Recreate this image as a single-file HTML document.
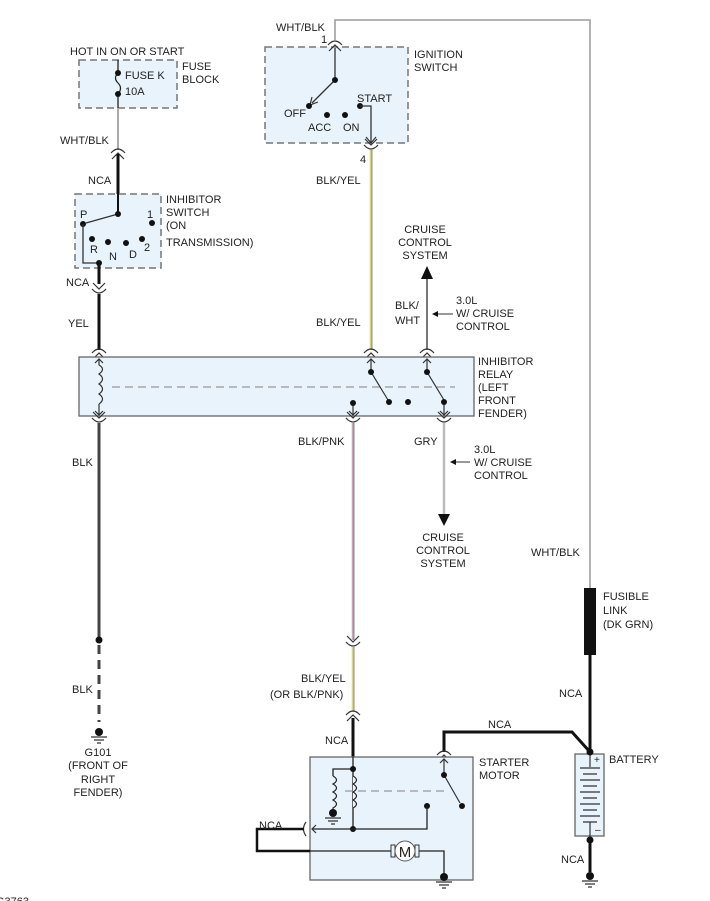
<!DOCTYPE html>
<html><head><meta charset="utf-8"><style>
html,body{margin:0;padding:0;background:#fff;}
svg{display:block;font-family:"Liberation Sans",Arial,sans-serif;font-size:11px;fill:#222;}
text{fill:#222;}
</style></head><body>
<svg width="710" height="901" viewBox="0 0 710 901" xmlns="http://www.w3.org/2000/svg">
<defs>
<g id="cn"><path d="M-7,3 Q0,-5 7,3" fill="none" stroke="#333" stroke-width="1.2"/><path d="M-6,9 L0,3 L6,9" fill="none" stroke="#333" stroke-width="1.2"/></g>
<g id="cnd"><path d="M-7,-3 Q0,5 7,-3" fill="none" stroke="#333" stroke-width="1.2"/><path d="M-6,-9 L0,-3 L6,-9" fill="none" stroke="#333" stroke-width="1.2"/></g>
<g id="gnd"><circle cx="0" cy="0" r="4" fill="#111"/><path d="M-8,5 H8 M-5,8 H5 M-2,11 H2" stroke="#333" stroke-width="1.2"/></g>
</defs>
<g stroke-linecap="butt">
<rect x="79" y="60" width="98" height="48" fill="#e8f3fb" stroke="#777" stroke-width="1.5" stroke-dasharray="7,4"/>
<line x1="118" y1="60" x2="118" y2="73" stroke="#222" stroke-width="1.3"/>
<path d="M118,73 Q113,78 118,83 Q123,88 118,94" fill="none" stroke="#222" stroke-width="1.2"/>
<line x1="118" y1="94" x2="118" y2="108" stroke="#222" stroke-width="1.3"/>
<circle cx="118" cy="73" r="3" fill="#111"/><circle cx="118" cy="94" r="3" fill="#111"/>
<line x1="118" y1="108" x2="118" y2="150" stroke="#aaa" stroke-width="2"/>
<use href="#cn" x="118" y="150"/>
<line x1="118" y1="154" x2="118" y2="214" stroke="#111" stroke-width="3"/>
<rect x="75" y="194" width="86" height="74" fill="#e8f3fb" stroke="#777" stroke-width="1.5" stroke-dasharray="7,4"/>
<line x1="118" y1="194" x2="118" y2="214" stroke="#111" stroke-width="2"/>
<line x1="118" y1="214" x2="86" y2="223" stroke="#333" stroke-width="1.3"/>
<circle cx="118" cy="214" r="3" fill="#111"/><circle cx="83" cy="224" r="3" fill="#111"/>
<circle cx="152" cy="223" r="3" fill="#111"/><circle cx="92" cy="239" r="3" fill="#111"/><circle cx="108" cy="242" r="3" fill="#111"/><circle cx="126" cy="243" r="3" fill="#111"/><circle cx="142" cy="239" r="3" fill="#111"/>
<path d="M83,224 V263 H99" fill="none" stroke="#333" stroke-width="1.3"/>
<circle cx="99" cy="263" r="3" fill="#111"/>
<line x1="99" y1="263" x2="99" y2="284" stroke="#111" stroke-width="3"/>
<use href="#cnd" x="99" y="292"/>
<line x1="99" y1="294" x2="99" y2="350" stroke="#111" stroke-width="3"/>
<use href="#cn" x="99" y="350"/>
<rect x="265" y="47" width="143" height="96" fill="#e8f3fb" stroke="#777" stroke-width="1.5" stroke-dasharray="7,4"/>
<path d="M335,40 V20 H590 V588" fill="none" stroke="#aaa" stroke-width="1.8"/>
<use href="#cn" x="335" y="42"/>
<line x1="335" y1="48" x2="335" y2="80" stroke="#333" stroke-width="1.3"/>
<line x1="335" y1="80" x2="312" y2="103" stroke="#333" stroke-width="1.3"/>
<path d="M312,97 L310,105 L318,102" fill="none" stroke="#333" stroke-width="1.2"/>
<circle cx="335" cy="80" r="3" fill="#111"/><circle cx="309" cy="106" r="3" fill="#111"/>
<circle cx="327" cy="115" r="3" fill="#111"/><circle cx="345" cy="115" r="3" fill="#111"/><circle cx="360" cy="106" r="3" fill="#111"/>
<path d="M360,106 H371 V143" fill="none" stroke="#333" stroke-width="1.3"/>
<path d="M366,137 L371,143 L376,137" fill="none" stroke="#333" stroke-width="1.2"/>
<use href="#cnd" x="371" y="148"/>
<line x1="371" y1="150" x2="371" y2="350" stroke="#d8cf7a" stroke-width="2.5"/>
<line x1="372" y1="150" x2="372" y2="350" stroke="#555" stroke-width="0.6"/>
<use href="#cn" x="371" y="350"/>
<line x1="427" y1="278" x2="427" y2="350" stroke="#777" stroke-width="2"/>
<path d="M421,279 L427,266 L433,279 Z" fill="#111"/>
<use href="#cn" x="427" y="350"/>
<line x1="453" y1="314" x2="433" y2="314" stroke="#333" stroke-width="1"/>
<path d="M438,311 L432,314 L438,317 Z" fill="#111"/>
<rect x="79" y="357" width="395" height="59" fill="#e8f3fb" stroke="#666" stroke-width="1.3"/>
<line x1="112" y1="387" x2="455" y2="387" stroke="#999" stroke-width="1.2" stroke-dasharray="8,5"/>
<line x1="99" y1="359" x2="99" y2="365" stroke="#333" stroke-width="1.2"/>
<path d="M95,363 L99,359 L103,363" fill="none" stroke="#333" stroke-width="1.2"/>
<path d="M99,365 Q106,369 99,374 Q106,379 99,384 Q106,389 99,394 Q106,399 99,404" fill="none" stroke="#333" stroke-width="1.2"/>
<line x1="99" y1="404" x2="99" y2="415" stroke="#333" stroke-width="1.2"/>
<path d="M95,411 L99,415 L103,411" fill="none" stroke="#333" stroke-width="1.2"/>
<path d="M371,359 V372 L388,400" fill="none" stroke="#333" stroke-width="1.2"/>
<path d="M367,363 L371,359 L375,363" fill="none" stroke="#333" stroke-width="1.2"/>
<circle cx="371" cy="372" r="3" fill="#111"/><circle cx="389" cy="402" r="3" fill="#111"/><circle cx="408" cy="402" r="3" fill="#111"/>
<path d="M427,359 V372 L444,400 V415" fill="none" stroke="#333" stroke-width="1.2"/>
<path d="M423,363 L427,359 L431,363" fill="none" stroke="#333" stroke-width="1.2"/>
<circle cx="427" cy="372" r="3" fill="#111"/><circle cx="444" cy="402" r="3" fill="#111"/>
<path d="M440,411 L444,415 L448,411" fill="none" stroke="#333" stroke-width="1.2"/>
<line x1="353" y1="403" x2="353" y2="415" stroke="#333" stroke-width="1.2"/>
<circle cx="353" cy="403" r="3" fill="#111"/>
<path d="M349,411 L353,415 L357,411" fill="none" stroke="#333" stroke-width="1.2"/>
<use href="#cnd" x="99" y="421"/><use href="#cnd" x="353" y="421"/><use href="#cnd" x="444" y="421"/>
<line x1="99" y1="423" x2="99" y2="640" stroke="#444" stroke-width="3"/>
<circle cx="99" cy="640" r="3.5" fill="#111"/>
<line x1="99" y1="645" x2="99" y2="722" stroke="#444" stroke-width="3" stroke-dasharray="9,6"/>
<use href="#gnd" x="99" y="732"/>
<line x1="353" y1="423" x2="353" y2="640" stroke="#c9a7b8" stroke-width="2.5"/>
<line x1="354" y1="423" x2="354" y2="640" stroke="#555" stroke-width="0.6"/>
<use href="#cnd" x="353" y="645"/>
<line x1="353" y1="647" x2="353" y2="712" stroke="#ddd48a" stroke-width="2.5"/>
<line x1="354" y1="647" x2="354" y2="712" stroke="#555" stroke-width="0.6"/>
<use href="#cn" x="353" y="712"/>
<line x1="353" y1="718" x2="353" y2="769" stroke="#111" stroke-width="3"/>
<line x1="444" y1="423" x2="444" y2="515" stroke="#bbb" stroke-width="2.5"/>
<path d="M438,514 L444,526 L450,514 Z" fill="#111"/>
<line x1="470" y1="462" x2="451" y2="462" stroke="#333" stroke-width="1"/>
<path d="M456,459 L450,462 L456,465 Z" fill="#111"/>
<rect x="584" y="588" width="12" height="67" fill="#111"/>
<line x1="590" y1="655" x2="590" y2="752" stroke="#111" stroke-width="3"/>
<path d="M590,752 L572,732 H444 V752" fill="none" stroke="#111" stroke-width="3"/>
<use href="#cn" x="444" y="752"/>
<rect x="575" y="754" width="29" height="82" fill="#e8f3fb" stroke="#666" stroke-width="1.3"/>
<circle cx="590" cy="752" r="3.5" fill="#111"/>
<line x1="590" y1="755" x2="590" y2="767" stroke="#333" stroke-width="1.2"/>
<path d="M580,768 H600 M583,774 H597 M580,780 H600 M583,786 H597 M580,792 H600 M583,798 H597 M580,804 H600 M583,810 H597 M580,816 H600 M583,822 H597" stroke="#333" stroke-width="1.2"/>
<line x1="590" y1="822" x2="590" y2="838" stroke="#333" stroke-width="1.2"/>
<text x="594" y="763" font-size="10">+</text><text x="595" y="833" font-size="10">–</text>
<circle cx="590" cy="840" r="3.5" fill="#111"/>
<line x1="590" y1="840" x2="590" y2="872" stroke="#111" stroke-width="3"/>
<use href="#gnd" x="590" y="876"/>
<rect x="310" y="757" width="163" height="123" fill="#e8f3fb" stroke="#666" stroke-width="1.3"/>
<line x1="353" y1="757" x2="353" y2="829" stroke="#222" stroke-width="1.3"/>
<path d="M353,776 Q360,780 353,784 Q360,788 353,792 Q360,796 353,800 Q360,804 353,808" fill="#e8f3fb" stroke="#222" stroke-width="1.2"/>
<path d="M353,769 H333 V776" fill="none" stroke="#222" stroke-width="1.3"/>
<path d="M333,776 Q340,780 333,784 Q340,788 333,792 Q340,796 333,800 Q340,804 333,808 V813" fill="none" stroke="#222" stroke-width="1.2"/>
<use href="#gnd" x="333" y="813"/>
<circle cx="353" cy="769" r="3" fill="#111"/><circle cx="353" cy="829" r="3" fill="#111"/>
<line x1="345" y1="791" x2="446" y2="791" stroke="#999" stroke-width="1.2" stroke-dasharray="8,5"/>
<path d="M444,759 V775 L460,803" fill="none" stroke="#333" stroke-width="1.2"/>
<path d="M440,763 L444,759 L448,763" fill="none" stroke="#333" stroke-width="1.2"/>
<circle cx="444" cy="775" r="3" fill="#111"/><circle cx="462" cy="806" r="3" fill="#111"/><circle cx="427" cy="806" r="3" fill="#111"/>
<path d="M427,806 V829 H312" fill="none" stroke="#222" stroke-width="1.3"/>
<path d="M316,825 L312,829 L316,833" fill="none" stroke="#333" stroke-width="1.2"/>
<path d="M306,822 Q301,829 306,836" fill="none" stroke="#333" stroke-width="1.2"/>
<path d="M304,829 H257 V851 H310" fill="none" stroke="#111" stroke-width="2.5"/>
<path d="M310,851 H391 M419,851 H444 V873" fill="none" stroke="#222" stroke-width="1.3"/>
<rect x="391" y="845" width="4" height="12" fill="#e8f3fb" stroke="#333"/>
<rect x="415" y="845" width="4" height="12" fill="#e8f3fb" stroke="#333"/>
<circle cx="405" cy="851" r="10" fill="#fff" stroke="#555"/>
<text x="405" y="857" font-size="15" text-anchor="middle">M</text>
<use href="#gnd" x="444" y="877"/>
</g>
<text x="70" y="55">HOT IN ON OR START</text>
<text x="125" y="79">FUSE K</text><text x="125" y="95">10A</text>
<text x="182" y="70">FUSE</text><text x="182" y="83">BLOCK</text>
<text x="60" y="144">WHT/BLK</text>
<text x="88" y="184">NCA</text>
<text x="166" y="203">INHIBITOR</text><text x="166" y="216">SWITCH</text><text x="166" y="229">(ON</text><text x="166" y="246">TRANSMISSION)</text>
<text x="80" y="218">P</text><text x="147" y="218">1</text>
<text x="90" y="253">R</text><text x="109" y="260">N</text><text x="129" y="258">D</text><text x="144" y="251">2</text>
<text x="66" y="286">NCA</text>
<text x="68" y="327">YEL</text>
<text x="276" y="31">WHT/BLK</text><text x="321" y="43">1</text>
<text x="414" y="58">IGNITION</text><text x="414" y="71">SWITCH</text>
<text x="357" y="102">START</text><text x="284" y="117">OFF</text><text x="308" y="131">ACC</text><text x="343" y="131">ON</text>
<text x="360" y="163">4</text>
<text x="316" y="184">BLK/YEL</text>
<text x="425" y="233" text-anchor="middle">CRUISE</text><text x="425" y="246" text-anchor="middle">CONTROL</text><text x="425" y="259" text-anchor="middle">SYSTEM</text>
<text x="395" y="309">BLK/</text><text x="395" y="324">WHT</text>
<text x="456" y="304">3.0L</text><text x="456" y="317">W/ CRUISE</text><text x="456" y="330">CONTROL</text>
<text x="316" y="326">BLK/YEL</text>
<text x="478" y="365">INHIBITOR</text><text x="478" y="378">RELAY</text><text x="478" y="391">(LEFT</text><text x="478" y="404">FRONT</text><text x="478" y="417">FENDER)</text>
<text x="298" y="445">BLK/PNK</text><text x="414" y="445">GRY</text>
<text x="474" y="453">3.0L</text><text x="474" y="466">W/ CRUISE</text><text x="474" y="479">CONTROL</text>
<text x="72" y="466">BLK</text>
<text x="443" y="541" text-anchor="middle">CRUISE</text><text x="443" y="554" text-anchor="middle">CONTROL</text><text x="443" y="567" text-anchor="middle">SYSTEM</text>
<text x="531" y="556">WHT/BLK</text>
<text x="603" y="600">FUSIBLE</text><text x="603" y="614">LINK</text><text x="603" y="628">(DK GRN)</text>
<text x="301" y="682">BLK/YEL</text><text x="270" y="698">(OR BLK/PNK)</text>
<text x="72" y="693">BLK</text>
<text x="559" y="697">NCA</text>
<text x="98" y="756" text-anchor="middle">G101</text><text x="98" y="769" text-anchor="middle">(FRONT OF</text><text x="98" y="783" text-anchor="middle">RIGHT</text><text x="98" y="796" text-anchor="middle">FENDER)</text>
<text x="488" y="728">NCA</text><text x="325" y="744">NCA</text>
<text x="479" y="766">STARTER</text><text x="479" y="779">MOTOR</text>
<text x="609" y="763">BATTERY</text>
<text x="259" y="829">NCA</text>
<text x="561" y="863">NCA</text>
<text x="-4" y="905" font-size="11">G3763</text>
</svg>
</body></html>
